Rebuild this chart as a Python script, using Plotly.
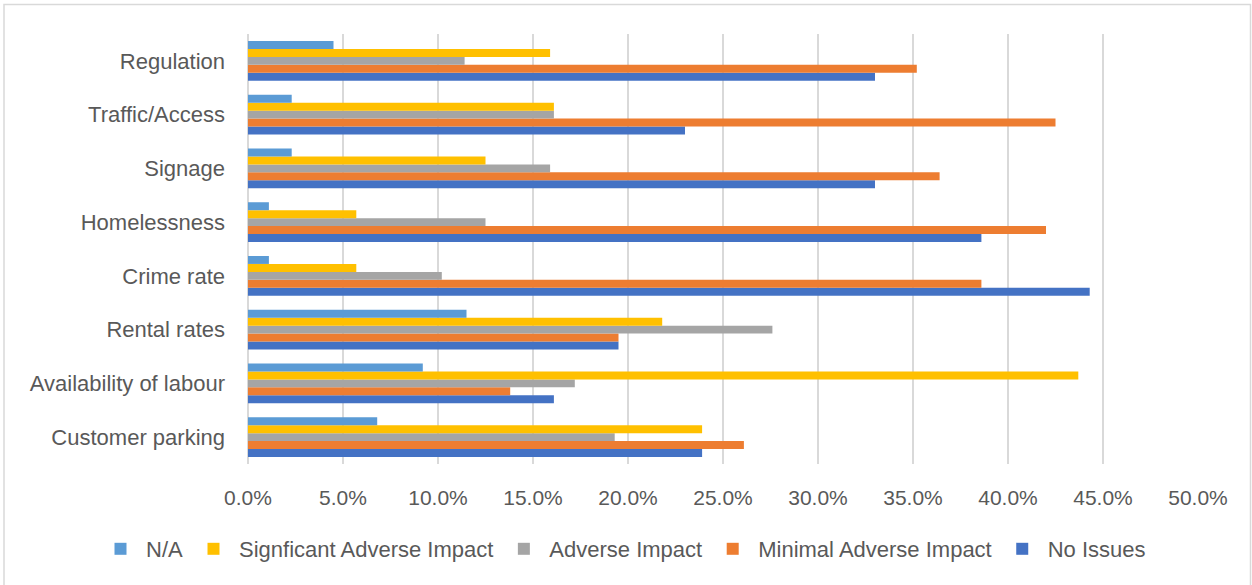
import plotly.graph_objects as go

categories = ["Customer parking", "Availability of labour", "Rental rates", "Crime rate",
              "Homelessness", "Signage", "Traffic/Access", "Regulation"]
no_issues = [23.9, 16.1, 19.5, 44.3, 38.6, 33.0, 23.0, 33.0]
minimal_adverse = [26.1, 13.8, 19.5, 38.6, 42.0, 36.4, 42.5, 35.2]
adverse = [19.3, 17.2, 27.6, 10.2, 12.5, 15.9, 16.1, 11.4]
significant_adverse = [23.9, 43.7, 21.8, 5.7, 5.7, 12.5, 16.1, 15.9]
not_applicable = [6.8, 9.2, 11.5, 1.1, 1.1, 2.3, 2.3, 4.5]

series_names = ["No Issues", "Minimal Adverse Impact", "Adverse Impact",
                "Signficant Adverse Impact", "N/A"]
series_values = [no_issues, minimal_adverse, adverse, significant_adverse, not_applicable]
series_colors = ["#4472C4", "#ED7D31", "#A5A5A5", "#FFC000", "#5B9BD5"]

W, H = 1252, 585
L, R, T, B = 248, 54, 34, 121
FONT = "Liberation Sans, Arial, sans-serif"
TXT = "#595959"

fig = go.Figure()
for name, vals, col in zip(series_names, series_values, series_colors):
    fig.add_trace(go.Bar(y=categories, x=vals, name=name, orientation="h",
                         marker=dict(color=col, line=dict(width=0))))

pw, ph = W - L - R, H - T - B
def px(x):
    return (x - L) / pw
def py(y):
    return 1 - (y - T) / ph

fig.update_layout(
    width=W, height=H,
    margin=dict(l=L, r=R, t=T, b=B, pad=0),
    barmode="group", bargap=0.26, bargroupgap=0,
    paper_bgcolor="white", plot_bgcolor="white",
    font=dict(family=FONT, size=21, color=TXT),
    showlegend=True,
    legend=dict(orientation="h", traceorder="reversed",
                xref="paper", yref="paper",
                x=px(95), xanchor="left", y=py(549), yanchor="middle",
                font=dict(family=FONT, size=22, color=TXT),
                itemwidth=41, bgcolor="rgba(0,0,0,0)"),
    xaxis=dict(range=[0, 50], dtick=5, tick0=0, tickformat=".1f", ticksuffix="%",
               showgrid=True, gridcolor="#D9D9D9", gridwidth=2,
               zeroline=True, zerolinecolor="#D9D9D9", zerolinewidth=2,
               showline=False, ticks="", ticklabelstandoff=19,
               tickfont=dict(family=FONT, size=21, color=TXT), fixedrange=True),
    yaxis=dict(showgrid=False, zeroline=False, showline=False, ticks="",
               ticklabelstandoff=22,
               tickfont=dict(family=FONT, size=22, color=TXT), fixedrange=True),
    shapes=[dict(type="rect", xref="paper", yref="paper",
                 x0=px(4), x1=px(1250.5), y0=py(4.5), y1=py(600),
                 line=dict(color="#D9D9D9", width=1.5), fillcolor="rgba(0,0,0,0)",
                 layer="below")],
)

fig.write_html("out.html")
